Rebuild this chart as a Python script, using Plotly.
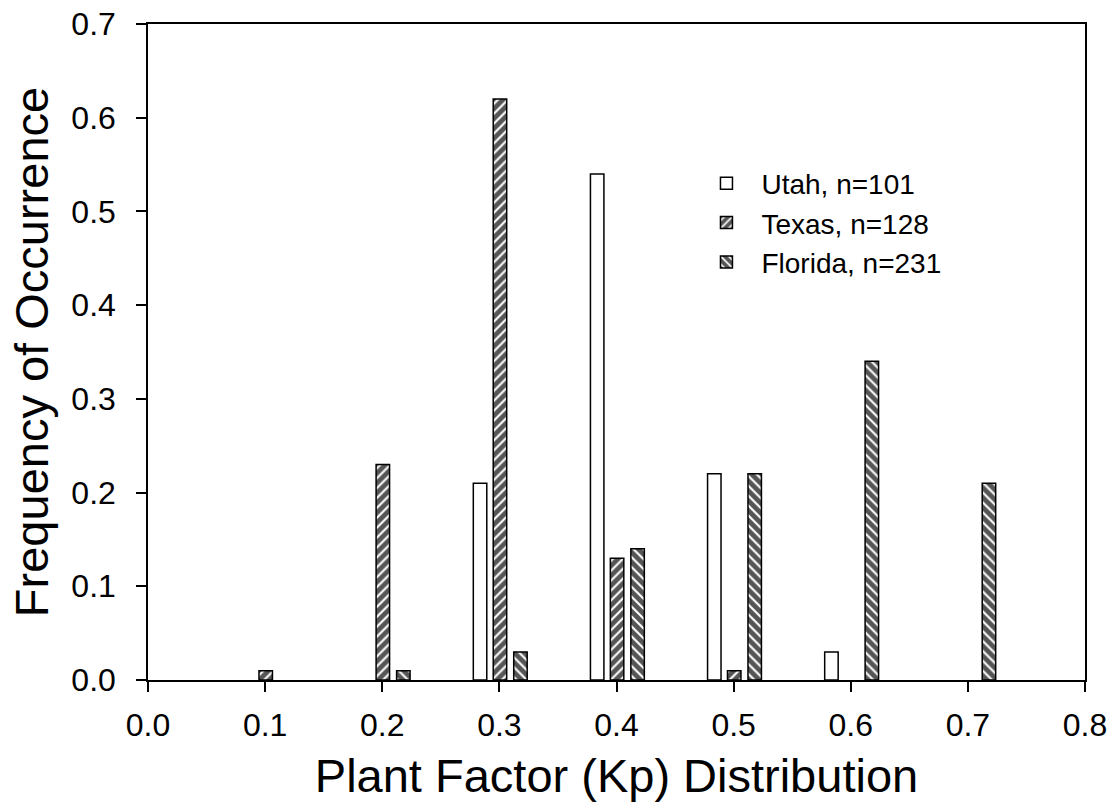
import plotly.graph_objects as go

# ---- data ----
kp_bins = [0.1, 0.2, 0.3, 0.4, 0.5, 0.6, 0.7]
utah = [None, None, 0.21, 0.54, 0.22, 0.03, None]
texas = [0.01, 0.23, 0.62, 0.13, 0.01, None, None]
florida = [None, 0.01, 0.03, 0.14, 0.22, 0.34, 0.21]
series_names = ["Utah, n=101", "Texas, n=128", "Florida, n=231"]
x_ticks = [0.0, 0.1, 0.2, 0.3, 0.4, 0.5, 0.6, 0.7, 0.8]
y_ticks = [0.0, 0.1, 0.2, 0.3, 0.4, 0.5, 0.6, 0.7]

FONT = "Liberation Sans, Arial, sans-serif"
bar_w = 0.0115
line = dict(color="black", width=1.5)

fig = go.Figure()
fig.add_trace(go.Bar(
    x=kp_bins, y=utah, name=series_names[0],
    width=bar_w, offset=-0.0165 - bar_w / 2,
    marker=dict(color="white", line=line),
))
fig.add_trace(go.Bar(
    x=kp_bins, y=texas, name=series_names[1],
    width=bar_w, offset=0.0005 - bar_w / 2,
    marker=dict(color="#555555", line=line,
                pattern=dict(shape="/", fgcolor="white", bgcolor="#555555",
                             size=7, solidity=0.3, fillmode="replace")),
))
fig.add_trace(go.Bar(
    x=kp_bins, y=florida, name=series_names[2],
    width=bar_w, offset=0.018 - bar_w / 2,
    marker=dict(color="#555555", line=line,
                pattern=dict(shape="\\", fgcolor="white", bgcolor="#555555",
                             size=7, solidity=0.3, fillmode="replace")),
))

fig.update_layout(
    width=1111, height=809,
    barmode="overlay",
    plot_bgcolor="white", paper_bgcolor="white",
    margin=dict(l=148, r=26, t=24, b=129),
    font=dict(family=FONT, color="black"),
    showlegend=True,
    legend=dict(x=0.58, y=0.795, xanchor="left", yanchor="top",
                font=dict(size=28, family=FONT, color="black"),
                bgcolor="rgba(0,0,0,0)", itemwidth=60, tracegroupgap=0),
    xaxis=dict(range=[0, 0.8], tickvals=x_ticks, tickformat=".1f",
               automargin=False,
               showline=True, mirror=True, linecolor="black", linewidth=1.5,
               ticks="outside", ticklen=10, tickwidth=1.5, tickcolor="black",
               ticklabelstandoff=6,
               showgrid=False, zeroline=False,
               tickfont=dict(size=32, family=FONT),
               title=dict(text="Plant Factor (Kp) Distribution",
                          font=dict(size=47, family=FONT), standoff=17)),
    yaxis=dict(range=[0, 0.7], tickvals=y_ticks, tickformat=".1f",
               automargin=False,
               showline=True, mirror=True, linecolor="black", linewidth=1.5,
               ticks="outside", ticklen=10, tickwidth=1.5, tickcolor="black",
               ticklabelstandoff=14,
               showgrid=False, zeroline=False,
               tickfont=dict(size=32, family=FONT),
               title=dict(text="Frequency of Occurrence",
                          font=dict(size=47, family=FONT), standoff=8)),
)

fig.write_html("out.html")
